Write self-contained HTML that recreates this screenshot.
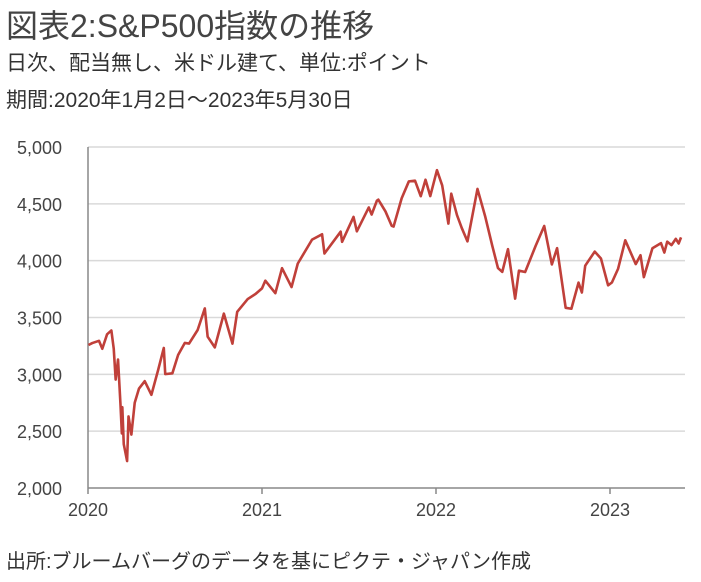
<!DOCTYPE html>
<html><head><meta charset="utf-8"><style>
body{margin:0;background:#fff;width:701px;height:582px;overflow:hidden;font-family:"Liberation Sans","Noto Sans CJK JP",sans-serif;color:#333}
.t{position:absolute;left:6px;white-space:nowrap}
</style></head><body>
<div class="t" style="top:1px;font-size:32px;color:#444;font-weight:normal">図表2:S&amp;P500指数の推移</div>
<div class="t" style="top:47px;font-size:21px">日次、配当無し、米ドル建て、単位:ポイント</div>
<div class="t" style="top:84px;font-size:21px">期間:2020年1月2日～2023年5月30日</div>
<div class="t" style="top:545px;font-size:20px">出所:ブルームバーグのデータを基にピクテ・ジャパン作成</div>
<svg id="c" width="701" height="582" style="position:absolute;left:0;top:0"></svg>
<script>
const yTicks=[2000,2500,3000,3500,4000,4500,5000];
const yLabels=["2,000","2,500","3,000","3,500","4,000","4,500","5,000"];
const xTicks=[2020,2021,2022,2023];
const dates=["2020-01-02","2020-01-10","2020-01-24","2020-01-31","2020-02-10","2020-02-19","2020-02-24","2020-02-28","2020-03-04","2020-03-09","2020-03-12","2020-03-13","2020-03-16","2020-03-23","2020-03-26","2020-04-01","2020-04-08","2020-04-17","2020-04-29","2020-05-13","2020-05-27","2020-06-08","2020-06-11","2020-06-26","2020-07-08","2020-07-22","2020-07-31","2020-08-18","2020-09-02","2020-09-08","2020-09-23","2020-10-12","2020-10-30","2020-11-09","2020-12-01","2020-12-18","2020-12-31","2021-01-08","2021-01-29","2021-02-12","2021-03-04","2021-03-17","2021-04-16","2021-05-07","2021-05-12","2021-06-15","2021-06-18","2021-07-12","2021-07-19","2021-08-13","2021-08-19","2021-08-30","2021-09-02","2021-09-17","2021-09-30","2021-10-04","2021-10-21","2021-11-05","2021-11-18","2021-11-30","2021-12-10","2021-12-20","2022-01-03","2022-01-14","2022-01-27","2022-02-02","2022-02-14","2022-02-24","2022-03-08","2022-03-29","2022-04-14","2022-04-29","2022-05-11","2022-05-20","2022-06-01","2022-06-16","2022-06-24","2022-07-07","2022-07-29","2022-08-16","2022-09-01","2022-09-12","2022-09-30","2022-10-12","2022-10-27","2022-11-03","2022-11-10","2022-11-30","2022-12-13","2022-12-28","2023-01-05","2023-01-18","2023-02-02","2023-02-24","2023-03-06","2023-03-13","2023-03-31","2023-04-18","2023-04-25","2023-05-01","2023-05-10","2023-05-19","2023-05-25","2023-05-30"];
const values=[3258,3275,3295,3225,3352,3386,3225,2954,3130,2746,2480,2711,2386,2237,2630,2470,2750,2875,2940,2820,3036,3232,3002,3009,3170,3276,3271,3390,3580,3331,3237,3534,3270,3550,3662,3709,3756,3824,3714,3934,3768,3974,4185,4232,4063,4255,4166,4385,4258,4468,4406,4528,4537,4433,4307,4300,4549,4697,4704,4567,4712,4568,4796,4662,4326,4589,4401,4288,4170,4631,4392,4132,3935,3901,4101,3666,3912,3900,4130,4305,3967,4110,3585,3577,3807,3720,3956,4080,4019,3783,3808,3929,4179,3970,4048,3855,4109,4154,4071,4167,4137,4192,4151,4205];
const svg=document.getElementById('c'),NS='http://www.w3.org/2000/svg';
const X0=88,X1=262,Y0=488,Y1=147;
const xs=v=>X0+(v-2020)*(X1-X0);
const ys=v=>Y0-(v-2000)/3000*(Y0-Y1);
function fy(s){const[y,m,d]=s.split('-').map(Number);const t=(Date.UTC(y,m-1,d)-Date.UTC(y,0,1))/864e5;return y+t/365;}
function mk(t,a){const e=document.createElementNS(NS,t);for(const k in a)e.setAttribute(k,a[k]);svg.appendChild(e);return e;}
yTicks.forEach((v,i)=>{
 if(v>2000){const g=mk('line',{x1:X0,x2:685,y1:ys(v),y2:ys(v),stroke:'#d9d9d9','stroke-width':1.5});
 
 }
 const t=mk('text',{x:62,y:ys(v)+7,'text-anchor':'end','font-size':18,fill:'#444','font-family':'Liberation Sans, sans-serif'});
 t.textContent=yLabels[i];
 
 
});
const ya=mk('line',{x1:X0,x2:X0,y1:Y1,y2:Y0,stroke:'#888','stroke-width':1.5});


const xa=mk('line',{x1:X0,x2:685,y1:Y0,y2:Y0,stroke:'#888','stroke-width':1.5});


xTicks.forEach(v=>{
 const k=mk('line',{x1:xs(v),x2:xs(v),y1:Y0,y2:Y0+6,stroke:'#888','stroke-width':1.5});
 
 
 const t=mk('text',{x:xs(v),y:Y0+28,'text-anchor':'middle','font-size':18,fill:'#444','font-family':'Liberation Sans, sans-serif'});
 t.textContent=v;
 
 
});
const p=mk('polyline',{points:dates.map((d,i)=>xs(fy(d))+','+ys(values[i])).join(' '),fill:'none',stroke:'#c0403a','stroke-width':2.6,'stroke-linejoin':'round'});


</script>
</body></html>
